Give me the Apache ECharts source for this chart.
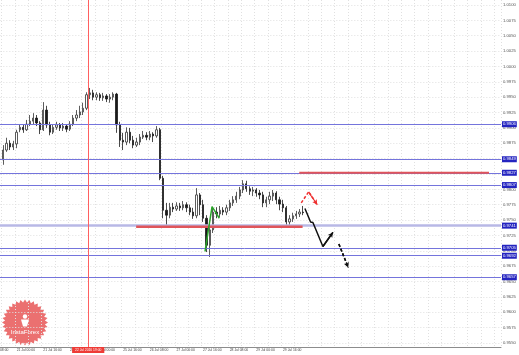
<!DOCTYPE html>
<html><head><meta charset="utf-8">
<script src="https://cdn.jsdelivr.net/npm/echarts@6/dist/echarts.min.js"></script>
<style>html,body{margin:0;padding:0;background:#fff;overflow:hidden;width:519px;height:355px}#c{width:532px;height:355px;margin-left:-13px}</style>
</head><body><div id="c"></div>
<script>
// ---- data (H-bars, prices) ----
const opens  = [0.9848,0.9864,0.9875,0.9869,0.9874,0.9897,0.9901,0.9897,0.9906,0.9911,0.9916,0.9908,0.9897,0.9929,0.9905,0.9893,0.9901,0.9905,0.9900,0.9903,0.9898,0.9906,0.9916,0.9921,0.9926,0.9932,0.9954,0.9957,0.9950,0.9954,0.9949,0.9952,0.9947,0.9950,0.9955,0.9905,0.9880,0.9877,0.9893,0.9880,0.9872,0.9877,0.9885,0.9888,0.9885,0.9890,0.9887,0.9897,0.9818,0.9766,0.9758,0.9771,0.9768,0.9773,0.9770,0.9775,0.9770,0.9763,0.9757,0.9791,0.9775,0.9753,0.9709,0.9734,0.9763,0.9760,0.9766,0.9763,0.9770,0.9778,0.9783,0.9789,0.9799,0.9809,0.9801,0.9797,0.9799,0.9794,0.9791,0.9778,0.9783,0.9789,0.9794,0.9783,0.9776,0.9770,0.9747,0.9752,0.9757,0.9760,0.9763];
const closes = [0.9864,0.9875,0.9869,0.9874,0.9893,0.9901,0.9897,0.9906,0.9911,0.9916,0.9908,0.9897,0.9929,0.9905,0.9893,0.9901,0.9905,0.9900,0.9903,0.9898,0.9906,0.9916,0.9921,0.9926,0.9932,0.9954,0.9957,0.9950,0.9954,0.9949,0.9952,0.9947,0.9950,0.9955,0.9905,0.9880,0.9877,0.9893,0.9880,0.9872,0.9877,0.9885,0.9888,0.9885,0.9890,0.9887,0.9897,0.9818,0.9766,0.9758,0.9771,0.9768,0.9773,0.9770,0.9775,0.9770,0.9763,0.9757,0.9791,0.9775,0.9753,0.9709,0.9734,0.9763,0.9760,0.9766,0.9763,0.9770,0.9778,0.9783,0.9789,0.9799,0.9809,0.9801,0.9797,0.9799,0.9794,0.9791,0.9778,0.9783,0.9789,0.9794,0.9783,0.9776,0.9770,0.9747,0.9752,0.9757,0.9760,0.9763,0.9762];
const lows   = [0.9840,0.9861,0.9864,0.9864,0.9867,0.9893,0.9892,0.9895,0.9903,0.9906,0.9903,0.9890,0.9895,0.9900,0.9888,0.9890,0.9897,0.9895,0.9895,0.9893,0.9895,0.9903,0.9911,0.9916,0.9921,0.9929,0.9947,0.9945,0.9945,0.9944,0.9944,0.9942,0.9941,0.9945,0.9892,0.9869,0.9864,0.9872,0.9875,0.9867,0.9869,0.9872,0.9882,0.9880,0.9880,0.9877,0.9884,0.9815,0.9753,0.9739,0.9753,0.9763,0.9765,0.9765,0.9766,0.9763,0.9758,0.9752,0.9753,0.9758,0.9747,0.9698,0.9690,0.9729,0.9753,0.9755,0.9758,0.9758,0.9765,0.9773,0.9778,0.9784,0.9794,0.9796,0.9791,0.9789,0.9788,0.9784,0.9771,0.9771,0.9776,0.9781,0.9776,0.9766,0.9763,0.9739,0.9742,0.9747,0.9752,0.9755,0.9758];
const highs  = [0.9872,0.9884,0.9880,0.9879,0.9897,0.9906,0.9905,0.9913,0.9921,0.9924,0.9921,0.9911,0.9942,0.9936,0.9910,0.9906,0.9910,0.9908,0.9908,0.9906,0.9911,0.9921,0.9929,0.9936,0.9941,0.9958,0.9965,0.9962,0.9958,0.9957,0.9957,0.9955,0.9955,0.9958,0.9957,0.9910,0.9892,0.9901,0.9900,0.9887,0.9884,0.9890,0.9895,0.9893,0.9895,0.9893,0.9903,0.9900,0.9822,0.9778,0.9778,0.9778,0.9779,0.9778,0.9781,0.9779,0.9775,0.9770,0.9802,0.9794,0.9783,0.9758,0.9737,0.9770,0.9771,0.9773,0.9771,0.9775,0.9783,0.9789,0.9796,0.9804,0.9815,0.9814,0.9805,0.9804,0.9802,0.9799,0.9796,0.9788,0.9796,0.9799,0.9797,0.9788,0.9783,0.9773,0.9758,0.9762,0.9765,0.9768,0.9773];
const firstSlot = 4;      // first bar slot on the time axis
const totalSlots = 154;   // slots on the time axis (incl. empty future)
const labelEvery = 8;
const timeLabels = ["20 Jul 08:00","21 Jul 00:00","21 Jul 16:00","22 Jul 08:00","25 Jul 00:00","25 Jul 16:00","26 Jul 08:00","27 Jul 00:00","27 Jul 16:00","28 Jul 08:00","29 Jul 00:00","29 Jul 16:00"];
const yTicks = [0.9550,0.9575,0.9600,0.9625,0.9650,0.9675,0.9700,0.9725,0.9750,0.9775,0.9800,0.9825,0.9850,0.9875,0.9900,0.9925,0.9950,0.9975,1.0000,1.0025,1.0050,1.0075,1.0100];
const yMin = 0.95435, yMax = 1.010814;
const levels = [0.9906,0.9849,0.9827,0.9807,0.9705,0.9692,0.9657];
const zoneLevel = 0.9741;
const lastPrice = 0.9762;
const separatorSlot = 29.5;
const separatorLabel = "22 Jul 2016 19:00";
const supportLine = [[43.9,0.9739],[93.9,0.9739]];
const resistLine  = [[92.9,0.9827],[149.9,0.9827]];
const greenPath = [[64.6,0.9699],[66.7,0.9772],[68.9,0.9753]];
const blackPath = [[94.6,0.9769],[96.3,0.9747],[97.0,0.9746],[100.0,0.9707],[103.0,0.9730]];
const blackDash = [[104.8,0.9711],[107.6,0.9673]];
const redDash   = [[93.5,0.9778],[95.7,0.9796],[98.3,0.9775]];

// ---- build ----
const cats = [], candles = [];
for (let i = 0; i < totalSlots; i++) {
  cats.push(String(i));
  const k = i - firstSlot;
  candles.push(k >= 0 && k < opens.length ? [opens[k], closes[k], lows[k], highs[k]] : '-');
}
const FONT = 'Liberation Sans';
const LEVEL_BLUE = '#7474dc';
const lvlLabel = (bg) => ({show:true, position:'end', distance:1, formatter:p=>Number(p.value).toFixed(4),
  backgroundColor:bg, color:'#fff', fontSize:4.2, fontFamily:FONT, padding:[1,1,0.5,1], lineHeight:4.5});
const levelSeries = levels.map(v => ({type:'line', xAxisIndex:1, data:[], symbol:'none', z:3, silent:true,
  markLine:{silent:true, precision:4, symbol:['none','none'], animation:false,
    lineStyle:{color:LEVEL_BLUE, width:1, type:'solid', opacity:1},
    label:lvlLabel('#2424c0'), data:[{yAxis:v}]}}));

function pathSeries(pts, color, width, dashed, arrow) {
  const s = {type:'line', xAxisIndex:1, yAxisIndex:0, data:pts, symbol:'none', z:6, silent:true,
    lineStyle:{color, width, type: dashed ? [3,2] : 'solid'}, animation:false};
  if (arrow) {
    const a = pts[pts.length-2], b = pts[pts.length-1];
    s.markLine = {silent:true, precision:4, symbol:['none','arrow'], symbolSize:[4,5], animation:false,
      lineStyle:{color, width, type: dashed ? [3,2] : 'solid'}, label:{show:false},
      data:[[{coord:a},{coord:b}]]};
  }
  return s;
}

// logo starburst
const star = [];
for (let i = 0; i < 64; i++) {
  const r = i % 2 ? 20 : 23, t = i / 64 * Math.PI * 2;
  star.push([r*Math.cos(t), r*Math.sin(t)]);
}

const chart = echarts.init(document.getElementById('c'), null, {renderer:'canvas'});
chart.setOption({
  animation:false,
  backgroundColor:'#ffffff',
  grid:{left:0, right:18, top:0, bottom:8},
  xAxis:[{
    type:'category', data:cats, boundaryGap:true,
    axisLine:{show:true, lineStyle:{color:'#8c8c8c', width:1}},
    axisTick:{show:false},
    axisLabel:{interval:(i)=> i % labelEvery === 0, formatter:(v,i)=> timeLabels[i/labelEvery] || '',
      align:'left', fontSize:3.4, color:'#444', fontFamily:FONT, margin:2},
    splitLine:{show:true, interval:(i)=> i % 4 === 0, lineStyle:{color:'#e0e0e0', type:[1,2], width:1}}
  },{
    type:'value', min:-0.5, max:totalSlots-0.5, show:false
  }],
  yAxis:{
    type:'value', position:'right', min:yMin, max:yMax, scale:true,
    axisLine:{show:true, lineStyle:{color:'#8c8c8c'}},
    axisTick:{show:false, customValues:yTicks},
    axisLabel:{customValues:yTicks, formatter:v=>v.toFixed(4), fontSize:4.2, color:'#555', fontFamily:FONT, margin:2},
    splitLine:{show:true, lineStyle:{color:'#e0e0e0', type:[1,2], width:1}}
  },
  series:[
    {type:'candlestick', data:candles, barWidth:1.8, z:4,
      itemStyle:{color:'#ffffff', color0:'#1a1a1a', borderColor:'#333', borderColor0:'#1a1a1a', borderWidth:0.8}},
    ...levelSeries,
    {type:'line', xAxisIndex:1, data:[], symbol:'none', z:3, silent:true,
      markLine:{silent:true, precision:4, symbol:['none','none'], animation:false,
        lineStyle:{color:'#b8b8e6', width:2.5, type:'solid'}, label:lvlLabel('#2424c0'), data:[{yAxis:zoneLevel}]}},
    {type:'line', xAxisIndex:1, data:[], symbol:'none', z:3, silent:true,
      markLine:{silent:true, precision:4, symbol:['none','none'], animation:false,
        lineStyle:{opacity:0}, label:lvlLabel('#111'), data:[{yAxis:lastPrice}]}},
    {type:'line', xAxisIndex:1, data:supportLine, symbol:'none', z:5, lineStyle:{color:'#e0555a', width:2.5}},
    {type:'line', xAxisIndex:1, data:resistLine, symbol:'none', z:5, lineStyle:{color:'#e0555a', width:2}},
    {type:'line', xAxisIndex:1, data:[], symbol:'none', z:2,
      markLine:{silent:true, precision:4, symbol:['none','none'], animation:false,
        lineStyle:{color:'#ff6060', width:1, type:'solid'},
        label:{show:true, position:'start', distance:0, formatter:separatorLabel, backgroundColor:'#ee3b36',
          color:'#fff', fontSize:3.3, fontFamily:FONT, padding:[1.5,3,1.5,3]},
        data:[{xAxis:separatorSlot}]}},
    pathSeries(greenPath, '#2aa52a', 1.5, false, false),
    pathSeries(blackPath, '#111111', 1.5, false, true),
    pathSeries(blackDash, '#111111', 1.5, true, true),
    pathSeries(redDash, '#ee3030', 1.5, true, true)
  ],
  graphic:[{type:'group', x:38, y:322.5, z:100, children:[
    {type:'polygon', shape:{points:star}, style:{fill:'rgba(232,92,92,0.88)'}},
    {type:'circle', shape:{cx:0, cy:-6, r:2.2}, style:{fill:'#fff'}},
    {type:'polygon', shape:{points:[[-4,-3],[4,-3],[2,4],[-2,4]]}, style:{fill:'#fff'}},
    {type:'text', x:0, y:10, style:{text:'InstaForex', fill:'#fff', fontSize:6, fontFamily:FONT, align:'center', verticalAlign:'middle'}}
  ]}]
});
</script></body></html>
